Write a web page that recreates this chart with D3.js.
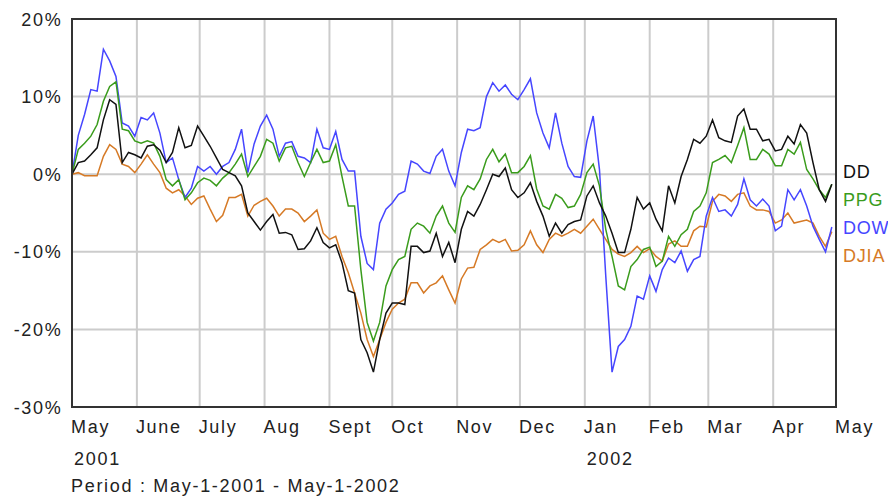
<!DOCTYPE html>
<html><head><meta charset="utf-8">
<script src="https://cdn.jsdelivr.net/npm/d3@7"></script>
<style>
body{margin:0;background:#fff}
svg{display:block}
text{font-family:"Liberation Sans",Arial,sans-serif;fill:#222}
</style>
</head><body>
<svg id="c" width="888" height="497"></svg>
<script>
// 3-day sampling dates (x categories)
const dates = [
"2001-05-01","2001-05-04","2001-05-07","2001-05-10","2001-05-13","2001-05-16","2001-05-19","2001-05-22","2001-05-25","2001-05-28","2001-05-31",
"2001-06-03","2001-06-06","2001-06-09","2001-06-12","2001-06-15","2001-06-18","2001-06-21","2001-06-24","2001-06-27","2001-06-30",
"2001-07-03","2001-07-06","2001-07-09","2001-07-12","2001-07-15","2001-07-18","2001-07-21","2001-07-24","2001-07-27","2001-07-30",
"2001-08-02","2001-08-05","2001-08-08","2001-08-11","2001-08-14","2001-08-17","2001-08-20","2001-08-23","2001-08-26","2001-08-29",
"2001-09-01","2001-09-04","2001-09-07","2001-09-10","2001-09-13","2001-09-16","2001-09-19","2001-09-22","2001-09-25","2001-09-28",
"2001-10-01","2001-10-04","2001-10-07","2001-10-10","2001-10-13","2001-10-16","2001-10-19","2001-10-22","2001-10-25","2001-10-28","2001-10-31",
"2001-11-03","2001-11-06","2001-11-09","2001-11-12","2001-11-15","2001-11-18","2001-11-21","2001-11-24","2001-11-27","2001-11-30",
"2001-12-03","2001-12-06","2001-12-09","2001-12-12","2001-12-15","2001-12-18","2001-12-21","2001-12-24","2001-12-27","2001-12-30",
"2002-01-02","2002-01-05","2002-01-08","2002-01-11","2002-01-14","2002-01-17","2002-01-20","2002-01-23","2002-01-26","2002-01-29",
"2002-02-01","2002-02-04","2002-02-07","2002-02-10","2002-02-13","2002-02-16","2002-02-19","2002-02-22","2002-02-25","2002-02-28",
"2002-03-03","2002-03-06","2002-03-09","2002-03-12","2002-03-15","2002-03-18","2002-03-21","2002-03-24","2002-03-27","2002-03-30",
"2002-04-02","2002-04-05","2002-04-08","2002-04-11","2002-04-14","2002-04-17","2002-04-20","2002-04-23","2002-04-26","2002-04-29"
];

// % change series
const DD = [0,1.5,1.7,2.5,3.4,7.0,9.6,9.0,1.5,2.8, 2.5,2.1,3.6,3.8,3.1,1.5,2.8,6.0,3.4,3.7,
 6.2,4.9,3.6,2.1,0.6,0.2,-0.2,-1.5,-5.0,-6.1, -7.2,-6.1,-5.2,-7.6,-7.5,-7.8,-9.7,-9.6,-8.6,-6.9,
 -8.8,-9.5,-9.1,-11.4,-15.0,-15.3,-21.3,-23.0,-25.5,-21.3, -17.9,-16.6,-16.6,-16.8,-9.3,-9.3,-10.1,-9.9,-7.6,-10.6,
 -8.8,-11.4,-7.1,-4.8,-5.4,-3.9,-2.0,0,-0.3,0.8, -2.0,-3.0,-2.4,-1.1,-3.5,-5.4,-8.0,-6.3,-7.6,-6.5,
 -6.1,-5.9,-2.8,-1.5,-3.7,-5.4,-7.6,-10.1,-10.1,-7.1, -3.0,-4.5,-3.7,-5.8,-7.3,-1.5,-3.7,-0.3,1.9,4.5,
 4.0,4.9,7.0,4.7,4.3,4.1,7.5,8.4,5.8,5.8, 4.3,4.5,3.0,3.2,4.9,3.9,6.4,5.3,1.5,-2.0, -3.5,-1.3];
const PPG = [0,3.2,4.0,4.9,6.4,9.4,11.3,11.9,5.8,5.6, 4.3,4.0,4.3,4.0,2.3,-0.7,-1.5,-0.7,-3.3,-2.4,
 -1.1,-0.5,-0.8,-1.5,-0.5,0.2,1.3,2.6,-0.3,1.0, 2.3,4.5,4.0,1.7,3.4,3.6,1.5,-0.3,1.5,3.2,
 1.5,1.7,3.8,-0.3,-4.1,-4.1,-12.3,-19.1,-21.5,-19.1, -14.4,-12.3,-11.0,-10.6,-7.1,-6.3,-6.7,-7.6,-5.4,-4.1,
 -6.3,-7.5,-3.0,-1.5,-2.0,-0.6,1.9,3.2,1.6,2.6, 0.2,0.2,1.0,2.4,-1.9,-4.1,-4.5,-2.6,-3.1,-4.3,
 -4.1,-2.6,0.2,1.3,-1.5,-7.1,-10.6,-14.4,-14.9,-11.9, -11.0,-9.7,-9.4,-11.9,-11.2,-8.0,-9.3,-7.8,-7.1,-4.8,
 -4.1,-2.4,1.5,1.9,2.4,1.5,3.7,6.0,1.9,1.9, 3.2,2.6,1.1,1.1,3.2,2.6,4.1,0.6,-0.6,-2.0, -3.0,-1.3];
const DOW = [0,5.0,7.7,10.9,10.7,16.1,14.6,12.6,6.6,6.2, 4.9,7.3,7.0,7.9,5.3,1.5,2.1,-0.7,-3.0,-1.8,
 1.0,0.4,1.0,0,1.0,1.5,3.2,5.8,0.2,3.9, 6.2,7.6,5.8,2.3,4.0,4.2,2.3,2.1,1.5,5.8,
 3.4,3.2,5.5,1.9,0.4,0.4,-8.0,-11.5,-12.3,-6.3, -4.5,-3.7,-2.6,-2.2,1.7,1.3,0.4,0.1,2.3,3.2,
 0.4,-1.5,2.8,5.8,5.6,6.0,10.0,11.8,10.7,11.5, 10.3,9.6,10.9,12.3,7.9,5.3,3.4,7.9,4.0,1.0,
 -0.3,-0.4,4.3,7.5,0.6,-13.1,-25.5,-22.2,-21.3,-19.6, -15.7,-16.1,-13.1,-15.1,-12.3,-10.8,-11.4,-9.9,-12.5,-11.0,
 -10.6,-5.4,-3.0,-4.8,-4.6,-5.4,-3.9,-0.6,-3.3,-4.1, -3.2,-4.1,-7.3,-6.7,-2.0,-3.3,-2.0,-4.1,-6.7,-8.4, -10.0,-6.8];
const DJIA = [0,0.2,-0.2,-0.2,-0.2,2.3,3.8,3.2,1.3,1.0, 0.2,1.3,2.5,1.3,0.2,-1.8,-2.4,-2.0,-2.8,-3.9,
 -3.1,-2.8,-4.5,-6.1,-5.3,-3.0,-3.0,-2.6,-5.4,-4.0, -3.5,-3.1,-4.1,-5.4,-4.5,-4.5,-5.0,-6.1,-5.4,-4.6,
 -7.6,-8.4,-8.0,-10.6,-12.7,-15.3,-17.9,-21.3,-23.5,-21.3, -19.1,-17.4,-16.6,-16.1,-14.0,-14.0,-15.3,-14.4,-14.0,-13.1,
 -14.9,-16.6,-13.5,-12.1,-12.0,-9.7,-9.1,-8.4,-8.8,-8.4, -9.9,-9.8,-9.1,-7.3,-9.1,-10.1,-8.4,-7.6,-8.0,-7.6,
 -7.1,-7.6,-6.7,-5.8,-7.1,-8.4,-9.7,-10.3,-10.6,-10.1, -9.3,-10.1,-9.6,-10.6,-11.2,-9.0,-8.6,-9.3,-9.3,-7.3,
 -6.7,-6.8,-3.5,-2.6,-2.8,-3.5,-2.6,-2.4,-4.1,-4.6, -4.6,-4.8,-6.3,-5.9,-5.0,-6.3,-6.1,-5.9,-6.3,-8.0, -9.3,-7.4];

const seriesNames = ["DD","PPG","DOW","DJIA"];
const seriesColors = ["#111111","#3a9c1c","#4646ff","#d67a26"];
const yTicks = [20,10,0,-10,-20,-30];
const monthTicks = ["2001-05-01","2001-06-01","2001-07-01","2001-08-01","2001-09-01","2001-10-01","2001-11-01","2001-12-01","2002-01-01","2002-02-01","2002-03-01","2002-04-01","2002-05-01"];
const monthLabels = ["May","June","July","Aug","Sept","Oct","Nov","Dec","Jan","Feb","Mar","Apr","May"];
const yearTicks = ["2001-05-01","2002-01-01"];
const yearLabels = ["2001","2002"];
const periodText = "Period : May-1-2001 - May-1-2002";

const parse = d3.timeParse("%Y-%m-%d");
const svg = d3.select("#c");
const L = 72, R = 836, T = 19, B = 407;
const x = d3.scaleTime().domain([parse("2001-05-01"), parse("2002-05-01")]).range([L, R]);
const y = d3.scaleLinear().domain([-30, 20]).range([B, T]);

// grid
const g = svg.append("g");
g.selectAll("line.h").data(yTicks.slice(1, -1)).join("line")
  .attr("x1", L).attr("x2", R).attr("y1", d => y(d)).attr("y2", d => y(d))
  .attr("stroke", "#cccccc").attr("stroke-width", 2);
g.selectAll("line.v").data(monthTicks.slice(1, -1)).join("line")
  .attr("x1", d => x(parse(d))).attr("x2", d => x(parse(d))).attr("y1", T).attr("y2", B)
  .attr("stroke", "#cccccc").attr("stroke-width", 2);

// lines
const pts = dates.map(parse);
const allSeries = {DD, PPG, DOW, DJIA};
const line = d3.line().x((d, i) => x(pts[i])).y(d => y(d));
const order = ["DJIA","DOW","PPG","DD"];
order.forEach(name => {
  const c = seriesColors[seriesNames.indexOf(name)];
  svg.append("path").datum(allSeries[name]).attr("d", line)
    .attr("fill", "none").attr("stroke", c).attr("stroke-width", 1.5)
    .attr("stroke-linejoin", "miter");
});

// frame
svg.append("rect").attr("x", L).attr("y", T).attr("width", R - L).attr("height", B - T)
  .attr("fill", "none").attr("stroke", "#333").attr("stroke-width", 2);

const LS = 1.7;
// y labels
svg.selectAll("text.yl").data(yTicks).join("text")
  .attr("x", 62.5).attr("y", d => y(d) + 6.5).attr("text-anchor", "end")
  .attr("font-size", 18).attr("letter-spacing", LS).text(d => d + "%");

// month labels
svg.selectAll("text.ml").data(monthTicks).join("text")
  .attr("x", (d, i) => x(parse(d)) - 1).attr("y", 433)
  .attr("font-size", 18).attr("letter-spacing", LS).text((d, i) => monthLabels[i]);

// year labels
svg.selectAll("text.yr").data(yearTicks).join("text")
  .attr("x", d => x(parse(d)) + 2).attr("y", 465)
  .attr("font-size", 18).attr("letter-spacing", LS).text((d, i) => yearLabels[i]);

svg.append("text").attr("x", 71).attr("y", 492)
  .attr("font-size", 18).attr("letter-spacing", LS).text(periodText);

// legend
svg.selectAll("text.lg").data(seriesNames).join("text")
  .attr("x", 843).attr("y", (d, i) => 178 + i * 28)
  .attr("font-size", 18).attr("letter-spacing", 0.8)
  .style("fill", (d, i) => seriesColors[i]).text(d => d);
</script>
</body></html>
